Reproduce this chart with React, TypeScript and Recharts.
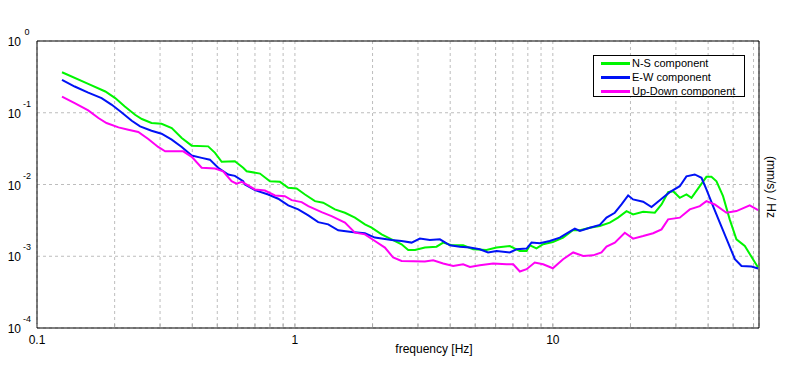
import { CartesianGrid, Line, LineChart, ReferenceLine, XAxis, YAxis } from "recharts";

// spectra: frequency [Hz] and amplitude [(mm/s)/Hz]
const NS_FREQ = [0.125, 0.158, 0.184, 0.201, 0.219, 0.24, 0.255, 0.278, 0.304, 0.333, 0.364, 0.398, 0.461, 0.49, 0.52, 0.585, 0.63, 0.65, 0.732, 0.8, 0.875, 0.942, 1.015, 1.094, 1.196, 1.287, 1.429, 1.563, 1.709, 1.868, 1.983, 2.168, 2.37, 2.591, 2.75, 2.92, 3.19, 3.54, 3.757, 4.05, 4.49, 4.91, 5.53, 6.05, 6.81, 7.45, 7.91, 8.15, 8.64, 9.17, 10.0, 10.96, 11.99, 12.73, 13.91, 15.21, 16.63, 17.9, 19.31, 20.47, 22.39, 24.86, 26.39, 27.99, 29.26, 31.06, 32.96, 34.48, 37.14, 39.4, 41.2, 43.1, 45.7, 48.5, 51.5, 55.5, 59.7, 62.5];
const NS_VAL = [0.367, 0.253, 0.198, 0.16, 0.122, 0.0938, 0.0818, 0.0719, 0.0703, 0.0613, 0.0445, 0.0348, 0.034, 0.0276, 0.0207, 0.0211, 0.0171, 0.0153, 0.0142, 0.0111, 0.0109, 0.009, 0.0088, 0.00726, 0.00586, 0.00557, 0.0045, 0.00404, 0.00345, 0.00278, 0.0025, 0.00202, 0.00172, 0.00147, 0.00122, 0.00122, 0.00132, 0.00136, 0.00155, 0.00142, 0.00142, 0.00125, 0.00122, 0.00132, 0.00139, 0.00118, 0.00118, 0.00142, 0.00129, 0.00147, 0.00158, 0.00182, 0.00232, 0.0023, 0.0025, 0.00264, 0.00294, 0.00345, 0.00426, 0.00383, 0.00418, 0.00404, 0.00527, 0.00782, 0.00807, 0.00653, 0.00726, 0.00653, 0.00947, 0.0128, 0.0128, 0.0111, 0.00688, 0.00327, 0.00172, 0.00139, 0.00091, 0.000697];

const EW_FREQ = [0.125, 0.14, 0.158, 0.178, 0.195, 0.213, 0.233, 0.251, 0.278, 0.304, 0.333, 0.364, 0.398, 0.435, 0.468, 0.504, 0.551, 0.585, 0.63, 0.64, 0.7, 0.788, 0.861, 0.942, 1.03, 1.127, 1.231, 1.346, 1.472, 1.659, 1.868, 2.042, 2.37, 2.591, 2.834, 3.051, 3.336, 3.648, 3.99, 4.36, 4.77, 5.21, 5.61, 6.05, 6.81, 7.23, 7.91, 8.27, 8.9, 9.73, 10.64, 11.46, 12.17, 12.73, 13.91, 15.21, 16.15, 17.39, 18.46, 19.59, 20.47, 22.39, 24.13, 25.98, 28.41, 31.06, 32.96, 35.5, 37.7, 39.4, 41.8, 44.4, 47.8, 50.8, 53.9, 58.9, 62.5];
const EW_VAL = [0.287, 0.232, 0.191, 0.16, 0.129, 0.101, 0.0774, 0.0645, 0.0562, 0.0511, 0.0422, 0.0334, 0.0253, 0.0235, 0.0222, 0.0171, 0.0138, 0.0132, 0.0111, 0.01, 0.00834, 0.00726, 0.00633, 0.00511, 0.0045, 0.00371, 0.00299, 0.00278, 0.0023, 0.00218, 0.00209, 0.00182, 0.00168, 0.00163, 0.00155, 0.00176, 0.00168, 0.00172, 0.00142, 0.00136, 0.00132, 0.00125, 0.00113, 0.00118, 0.00113, 0.00125, 0.00128, 0.00155, 0.00152, 0.00163, 0.00182, 0.00213, 0.00243, 0.00225, 0.0025, 0.00274, 0.00345, 0.00404, 0.00527, 0.00703, 0.00619, 0.00575, 0.00484, 0.00605, 0.00782, 0.00947, 0.013, 0.0138, 0.0124, 0.00853, 0.005, 0.00294, 0.00155, 0.00091, 0.000733, 0.00072, 0.000675];

const UD_FREQ = [0.125, 0.14, 0.158, 0.173, 0.186, 0.207, 0.226, 0.247, 0.27, 0.295, 0.314, 0.369, 0.398, 0.435, 0.49, 0.527, 0.568, 0.594, 0.623, 0.7, 0.765, 0.837, 0.914, 0.971, 1.062, 1.127, 1.269, 1.387, 1.563, 1.709, 1.868, 2.042, 2.233, 2.404, 2.591, 3.19, 3.436, 3.757, 4.108, 4.49, 4.77, 5.21, 5.87, 6.62, 7.02, 7.45, 7.91, 8.51, 9.17, 10.0, 10.96, 11.99, 13.11, 14.32, 15.44, 16.15, 17.39, 19.01, 20.47, 22.39, 24.48, 26.39, 27.99, 31.06, 33.96, 37.14, 39.4, 42.46, 47.1, 51.5, 58.0, 62.5];
const UD_VAL = [0.168, 0.136, 0.108, 0.0844, 0.0719, 0.0625, 0.0581, 0.0539, 0.0431, 0.0334, 0.029, 0.029, 0.0243, 0.0171, 0.0167, 0.0153, 0.0111, 0.0103, 0.0109, 0.00853, 0.00825, 0.00703, 0.00688, 0.00605, 0.00568, 0.005, 0.00412, 0.00363, 0.00294, 0.00213, 0.00202, 0.00163, 0.00132, 0.00096, 0.00086, 0.000844, 0.00088, 0.000792, 0.000733, 0.000774, 0.00071, 0.00075, 0.000792, 0.000774, 0.000774, 0.000613, 0.00066, 0.000818, 0.000774, 0.000681, 0.00091, 0.00113, 0.00101, 0.00103, 0.00113, 0.00136, 0.00155, 0.00213, 0.00176, 0.00191, 0.00209, 0.00237, 0.00327, 0.00345, 0.0045, 0.005, 0.00586, 0.00527, 0.00404, 0.00426, 0.00511, 0.0044];

const X_MIN = 0.1;
const X_MAX = 63;
const X_TICKS = [0.1, 0.2, 0.3, 0.4, 0.5, 0.6, 0.7, 0.8, 0.9, 1, 2, 3, 4, 5, 6, 7, 8, 9, 10, 20, 30, 40, 50, 60];
const X_LABELS = [0.1, 1, 10];
const Y_TICKS = [0.0001, 0.001, 0.01, 0.1, 1];

const FONT = '"Liberation Sans", Arial, sans-serif';
const GRID = "#bdbdbd";

const SERIES = [
  { name: "N-S component", color: "#00f500", freq: NS_FREQ, val: NS_VAL },
  { name: "E-W component", color: "#0012f5", freq: EW_FREQ, val: EW_VAL },
  { name: "Up-Down component", color: "#ff00f5", freq: UD_FREQ, val: UD_VAL },
];

const zip = (f: number[], v: number[]) => f.map((x, i) => ({ f: x, v: v[i] }));

function FreqTick({ x, y, payload }: any) {
  const v = payload.value;
  return (
    <g>
      <line x1={x} x2={x} y1={y - 1} y2={y - 4} stroke="#a8a8a8" />
      {X_LABELS.includes(v) && (
        <text x={x} y={y + 16} textAnchor="middle" fontSize={12} fill="#000" fontFamily={FONT}>
          {v}
        </text>
      )}
    </g>
  );
}

function PowerTick({ x, y, payload }: any) {
  const exp = Math.round(Math.log10(payload.value));
  return (
    <g fontFamily={FONT} fill="#000">
      <text x={x - 16} y={y + 5} textAnchor="end" fontSize={12}>
        10
      </text>
      <text x={x - 10} y={y - 6} textAnchor="middle" fontSize={9}>
        {exp}
      </text>
    </g>
  );
}

export default function App() {
  return (
    <div style={{ position: "absolute", left: 0, top: 0, width: 796, height: 370, background: "#fff", fontFamily: FONT }}>
      <LineChart width={796} height={370} margin={{ top: 41, right: 37, bottom: 0, left: 0 }}>
        <CartesianGrid stroke={GRID} strokeDasharray="3 3" />
        <XAxis
          dataKey="f"
          type="number"
          scale="log"
          domain={[X_MIN, X_MAX]}
          ticks={X_TICKS}
          allowDataOverflow
          height={42}
          tickSize={0}
          tickMargin={0}
          tickLine={false}
          tick={<FreqTick />}
          axisLine={{ stroke: "#000" }}
          interval={0}
        />
        <YAxis
          type="number"
          scale="log"
          domain={[0.0001, 1]}
          ticks={Y_TICKS}
          allowDataOverflow
          width={37}
          tickSize={0}
          tickMargin={0}
          tickLine={false}
          tick={<PowerTick />}
          axisLine={{ stroke: "#000" }}
          interval={0}
        />
        <ReferenceLine y={1} stroke="#000" />
        <ReferenceLine x={X_MAX} stroke="#000" />
        {SERIES.map((s) => (
          <Line
            key={s.name}
            data={zip(s.freq, s.val)}
            dataKey="v"
            type="linear"
            stroke={s.color}
            strokeWidth={2}
            dot={false}
            isAnimationActive={false}
          />
        ))}
      </LineChart>

      <div
        style={{
          position: "absolute",
          left: 593,
          top: 55,
          width: 150,
          height: 40,
          border: "1px solid #000",
          background: "#fff",
          fontSize: 11,
        }}
      >
        {SERIES.map((s) => (
          <div key={s.name} style={{ display: "flex", alignItems: "center", height: 14 }}>
            <span style={{ display: "inline-block", marginLeft: 7, width: 29, height: 3, background: s.color }} />
            <span style={{ marginLeft: 2, lineHeight: "14px" }}>{s.name}</span>
          </div>
        ))}
      </div>

      <svg width={796} height={370} style={{ position: "absolute", left: 0, top: 0, pointerEvents: "none" }}>
        <text x={434} y={353} textAnchor="middle" fontSize={12} fontFamily={FONT} fill="#000">
          frequency [Hz]
        </text>
        <text
          x={0}
          y={0}
          transform="translate(767 187) rotate(90)"
          textAnchor="middle"
          fontSize={12}
          fontFamily={FONT}
          fill="#000"
        >
          (mm/s)  /  Hz
        </text>
      </svg>
    </div>
  );
}
